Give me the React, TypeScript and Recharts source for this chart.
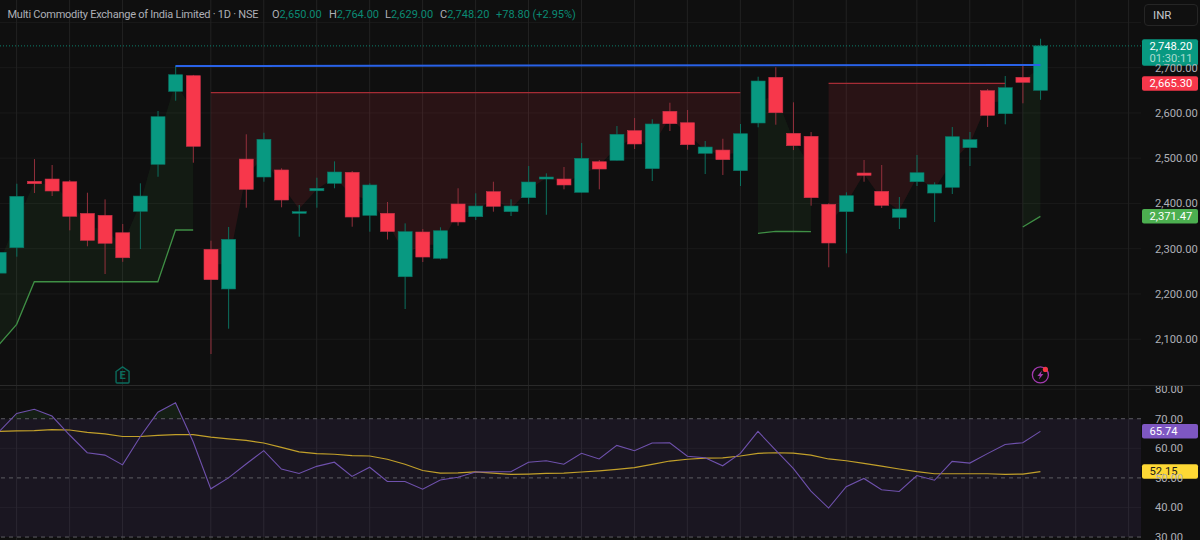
import React from 'react';
import {
  ComposedChart, Bar, Line, Area, XAxis, YAxis, CartesianGrid, ReferenceLine, ReferenceDot, ReferenceArea,
} from 'recharts';

const openP = [2246,2302.2,2449,2454,2448,2378,2373.8,2335.3,2382.6,2486.5,2647.8,2682.3,2298.7,2211,2498,2458.4,2474,2378.2,2428,2444.5,2468.8,2373.8,2378.2,2238,2336.9,2278.8,2398.8,2370.7,2426,2381.8,2412.7,2454,2454,2424.6,2492.2,2495.3,2560.8,2476.8,2603.6,2578.4,2510.8,2518,2472.4,2577.8,2678.8,2555,2548.4,2398.1,2381.8,2467.3,2426.8,2369.4,2448,2423,2435.7,2523.2,2649.2,2598.3,2678.8,2650];
const highP = [2295,2443.6,2498,2485,2451.8,2423.7,2409,2354.6,2444.5,2604.3,2704.4,2684,2317.7,2348,2552.8,2556.3,2477.7,2396.6,2456.9,2493,2471.7,2444.5,2403.2,2356,2343.5,2347.3,2433.5,2422.4,2448,2409.2,2482.7,2466.6,2480.5,2533.6,2496,2571.1,2588.8,2586,2622.6,2606.5,2538,2543,2575.6,2680,2700.9,2623.5,2557.9,2400.3,2424.6,2496,2485,2414.2,2507,2446.7,2568.9,2557.9,2652.9,2681.6,2707.5,2764];
const lowP = [2240,2282.3,2423,2416.4,2340.6,2305.3,2244,2271,2299.3,2459,2627,2490,2067.3,2123.2,2390.6,2448,2391.5,2326.5,2390.6,2433.5,2348.6,2337.6,2320.3,2166.7,2270.6,2276,2350.8,2363.4,2381.8,2372.2,2398.8,2375,2431.2,2424,2431.2,2495,2520.3,2449.6,2560.1,2518.8,2465,2462.9,2438.5,2568.3,2574,2518,2395,2258.9,2289.8,2448,2389.9,2343.5,2438.5,2359,2420.9,2482.7,2569,2574.9,2621.3,2629];
const closeP = [2292,2415.8,2443.6,2427.5,2371.6,2318.5,2312,2280,2416.4,2591.7,2684.5,2526.3,2231.5,2320.7,2431.2,2541.7,2407.6,2381.8,2433.4,2469.5,2370,2440.8,2338,2337.6,2281.6,2339.7,2359,2394.3,2393.7,2394.3,2447.4,2458.4,2440.8,2499.8,2476.1,2552.8,2531.4,2575.6,2576.2,2529.8,2524.7,2496.7,2554.1,2670.6,2600.5,2527.6,2412.7,2312.6,2417.1,2462.2,2395.9,2387.7,2467.9,2441.4,2547.5,2540.9,2594.8,2655.8,2667.7,2748.2];
const bodyMid = [2269,2359,2446,2441,2410,2348,2343,2308,2400,2539,2666,2604,2265,2266,2465,2500,2441,2388,2431,2457,2419,2407,2358,2288,2309,2309,2379,2383,2410,2388,2430,2456,2447,2462,2484,2524,2546,2526,2590,2554,2518,2507,2513,2624,2640,2541,2480,2355,2400,2465,2411,2385,2458,2432,2492,2532,2622,2627,2673,2699];

const n = null;
const greenLine = [2088,2132.9,2227,2227,2227,2227,2227,2227,2227,2227,2341.3,2341.3,n,n,n,n,n,n,n,n,n,n,n,n,n,n,n,n,n,n,n,n,n,n,n,n,n,n,n,n,n,n,n,2334,2338.4,2338,2337.6,n,n,n,n,n,n,n,n,n,n,n,2348,2371.47];
const redLine = [n,n,n,n,n,n,n,n,n,n,n,n,2645,2645,2645,2645,2645,2645,2645,2645,2645,2645,2645,2645,2645,2645,2645,2645,2645,2645,2645,2645,2645,2645,2645,2645,2645,2645,2645,2645,2645,2645,2645,n,n,n,n,2665.3,2665.3,2665.3,2665.3,2665.3,2665.3,2665.3,2665.3,2665.3,2665.3,2665.3,n,n];
const blueX = [10, 59];
const blueV = [2703.8, 2706];

const rsiLine = [65.6,71.8,73.2,70.9,64.5,58.5,57.7,54.4,63.9,72.2,75.4,62.2,46.3,50,54.7,59.2,53,51.5,53.9,55.3,50.5,53.6,48.8,48.8,46.2,49.3,50.2,52,52.1,52.1,55.3,55.8,54.6,58.3,56.4,61,59.2,61.8,61.9,57.3,56.8,54.1,58.3,65.7,59.4,53.2,45.5,39.8,47,49.8,46,45.4,50.8,49.2,55.6,55,58.2,61.3,61.9,65.74];
const rsiMa = [65.7,65.9,66,66.3,66.2,65.4,64.9,64,64,64.4,64.6,64.6,63.8,63.2,62.7,61.8,60.3,58.8,58.2,58,57.5,57.4,56.3,54.6,52.5,51.6,51.7,52,51.6,51.2,51.3,51.5,51.6,52,52.4,52.9,53.5,54.6,55.7,56.3,56.7,56.8,57.4,58.3,58.5,58.4,57.7,56.4,55.8,54.9,54,53,52.1,51.4,51.4,51.4,51.4,51.2,51.3,52.15];

const obX = [0.71, 1, 2, 3, 3.14, 5, 8.73, 9, 10, 10.41];
const obV = [70, 71.8, 73.2, 70.9, 70, n, 70, 72.2, 75.4, 70];

const priceTicks = [2100, 2200, 2300, 2400, 2500, 2600, 2700];
const priceGrid = [2100, 2200, 2300, 2400, 2500, 2600, 2700, 2800];
const rsiTicks = [30, 40, 50, 60, 70, 80];
const rsiGrid = [40, 60, 80];
const gridX = [1, 4, 7, 12, 15, 18, 21, 24, 27, 30, 33, 36, 39, 42, 45, 48, 52, 55, 58, 61, 64];

const legendName = 'Multi Commodity Exchange of India Limited · 1D · NSE';
const legendOhlc = [
  { key: 'O', value: '2,650.00', labelX: 272 },
  { key: 'H', value: '2,764.00', labelX: 329 },
  { key: 'L', value: '2,629.00', labelX: 385 },
  { key: 'C', value: '2,748.20', labelX: 440 },
];
const legendChange = '+78.80 (+2.95%)';

const FONT = 'Roboto, "Liberation Sans", sans-serif';
const BG = '#0f0f0f';
const UP = '#089981';
const DOWN = '#f7374b';
const UP_WICK = '#0c6f5e';
const DOWN_WICK = '#93303c';
const GRID_V = '#222222';
const GRID_H = '#1a1a1a';
const AXIS_TEXT = '#aeb0b7';
const X_DOMAIN: [number, number] = [0.0567, 64.7];

const rows = closeP.map((c, i) => ({
  x: i,
  open: openP[i],
  high: highP[i],
  low: lowP[i],
  close: c,
  range: [lowP[i], highP[i]],
  greenBand: greenLine[i] == null ? null : [greenLine[i], bodyMid[i]],
  redBand: redLine[i] == null ? null : [bodyMid[i], redLine[i]],
  green: greenLine[i],
  red: redLine[i],
}));
const rsiRows = rsiLine.map((v, i) => ({ x: i, rsi: v, ma: rsiMa[i] }));
const obRows = obX.map((x, i) => ({ x, band: obV[i] == null ? null : [70, obV[i]] }));
const blueRows = blueX.map((x, i) => ({ x, blue: blueV[i] }));

const fmt = (v: number) => v.toLocaleString('en-US', { minimumFractionDigits: 2, maximumFractionDigits: 2 });

function Candle(props: any) {
  const { x, y, width, height, payload } = props;
  if (height == null || !payload) return null;
  const k = height / (payload.high - payload.low);
  const up = payload.close >= payload.open;
  const top = y + (payload.high - Math.max(payload.open, payload.close)) * k;
  const bot = y + (payload.high - Math.min(payload.open, payload.close)) * k;
  const cx = x + width / 2;
  return (
    <g>
      <line x1={cx} x2={cx} y1={y} y2={y + height} stroke={up ? UP_WICK : DOWN_WICK} strokeWidth={1} />
      <rect x={x} y={top} width={width} height={Math.max(bot - top, 1)} fill={up ? UP : DOWN} stroke={up ? '#0a7565' : '#c8324a'} strokeWidth={0.6} />
    </g>
  );
}

function tag(bg: string, fg: string, text: string, h = 14.5, extra?: string, top?: number) {
  return (p: any) => {
    const y = p.viewBox.y;
    const t = top == null ? y - h / 2 : y + top;
    return (
      <g>
        <rect x={1142} y={t} width={56} height={h} rx={2} fill={bg} />
        <text x={1149.5} y={t + 11} fill={fg} fontSize={11.2} fontFamily={FONT}>{text}</text>
        {extra ? <text x={1149.5} y={t + 23} fill="#a9dcd0" fontSize={11.2} fontFamily={FONT}>{extra}</text> : null}
      </g>
    );
  };
}

function EarningsBadge(p: any) {
  const { cx, cy } = p;
  return (
    <g transform={`translate(${cx},${cy})`}>
      <path d="M-6.5,-3.5 L0,-8 L6.5,-3.5 L6.5,7 Q6.5,8 5.5,8 L-5.5,8 Q-6.5,8 -6.5,7 Z" fill="none" stroke="#0b6b5c" strokeWidth={1.4} />
      <text x={0} y={4.5} textAnchor="middle" fontSize={11} fontWeight={700} fill="#0b6b5c" fontFamily={FONT}>E</text>
    </g>
  );
}

function BoltBadge(p: any) {
  const { cx, cy } = p;
  return (
    <g transform={`translate(${cx},${cy})`}>
      <circle cx={0} cy={0} r={8} fill="none" stroke="#a33ab0" strokeWidth={1.3} />
      <path d="M1.5,-4.5 L-3,1 L-0.5,1 L-1.5,4.5 L3,-1 L0.5,-1 Z" fill="#a33ab0" />
      <circle cx={5} cy={-5.5} r={2.6} fill="#f23645" />
    </g>
  );
}

const textStyle: React.CSSProperties = { position: 'absolute', top: 7, fontFamily: FONT, fontSize: 11, lineHeight: '15px', whiteSpace: 'nowrap' };

export default function App() {
  return (
    <div style={{ position: 'fixed', left: 0, top: 0, width: 1200, height: 540, background: BG, overflow: 'hidden' }}>
      <div style={{ position: 'absolute', left: 0, top: 0, width: 1200, height: 385 }}>
        <ComposedChart width={1200} height={385} data={rows} margin={{ top: 0, right: 0, bottom: 0, left: 0 }}>
          <XAxis dataKey="x" type="number" domain={X_DOMAIN} allowDataOverflow hide />
          <YAxis
            orientation="right" width={59} domain={[1998.8, 2849.6]} allowDataOverflow ticks={priceTicks} interval={0}
            tickFormatter={fmt} tickLine={false} axisLine={false} tickMargin={8}
            tick={{ fill: AXIS_TEXT, fontSize: 11.2, fontFamily: FONT }}
          />
          <CartesianGrid stroke={GRID_H} vertical={false} horizontalValues={priceGrid} />
          <CartesianGrid stroke={GRID_V} horizontal={false} verticalValues={gridX} />
          <Area dataKey="greenBand" stroke="none" fill="#4caf50" fillOpacity={0.08} isAnimationActive={false} dot={false} activeDot={false} />
          <Area dataKey="redBand" stroke="none" fill="#f23645" fillOpacity={0.115} isAnimationActive={false} dot={false} activeDot={false} />
          <Line dataKey="green" stroke="#3f8f45" strokeWidth={1.3} dot={false} activeDot={false} isAnimationActive={false} />
          <Line dataKey="red" stroke="#a62c35" strokeWidth={1.4} dot={false} activeDot={false} isAnimationActive={false} />
          <Line data={blueRows} dataKey="blue" stroke="#2962e8" strokeWidth={2} dot={false} activeDot={false} isAnimationActive={false} />
          <ReferenceLine y={2748.2} stroke="#0c7f6b" strokeDasharray="1 2" ifOverflow="visible"
            label={tag(UP, '#ffffff', '2,748.20', 26.5, '01:30:11', -6.7)} />
          <ReferenceLine y={2665.3} stroke="none" ifOverflow="visible" label={tag(DOWN, '#ffffff', '2,665.30')} />
          <ReferenceLine y={2371.47} stroke="none" ifOverflow="visible" label={tag('#4caf50', '#ffffff', '2,371.47')} />
          <Bar dataKey="range" barSize={14} shape={Candle} isAnimationActive={false} />
          <ReferenceDot x={7} y={2021} shape={EarningsBadge} ifOverflow="visible" />
          <ReferenceDot x={59} y={2021} shape={BoltBadge} ifOverflow="visible" />
        </ComposedChart>
      </div>
      <div style={{ position: 'absolute', left: 0, top: 385, width: 1200, height: 1, background: '#2a2a2a' }} />
      <div style={{ position: 'absolute', left: 0, top: 386, width: 1200, height: 154 }}>
        <ComposedChart width={1200} height={154} data={rsiRows} margin={{ top: 0, right: 0, bottom: 0, left: 0 }}>
          <XAxis dataKey="x" type="number" domain={X_DOMAIN} allowDataOverflow hide />
          <YAxis
            orientation="right" width={59} domain={[29, 81.07]} allowDataOverflow ticks={rsiTicks} interval={0}
            tickFormatter={fmt} tickLine={false} axisLine={false} tickMargin={8}
            tick={{ fill: AXIS_TEXT, fontSize: 11.2, fontFamily: FONT }}
          />
          <ReferenceArea y1={30} y2={70} fill="#7e57c2" fillOpacity={0.1} stroke="none" ifOverflow="hidden" />
          <CartesianGrid stroke={GRID_H} vertical={false} horizontalValues={rsiGrid} />
          <CartesianGrid stroke={GRID_V} horizontal={false} verticalValues={gridX} />
          <ReferenceLine y={70} stroke="#5c5c62" strokeDasharray="4 4" />
          <ReferenceLine y={50} stroke="#5c5c62" strokeDasharray="4 4" />
          <ReferenceLine y={30} stroke="#5c5c62" strokeDasharray="4 4" />
          <Area data={obRows} dataKey="band" stroke="none" fill="#4caf50" fillOpacity={0.1} isAnimationActive={false} dot={false} activeDot={false} />
          <Line dataKey="ma" stroke="#c2a02a" strokeWidth={1.2} dot={false} activeDot={false} isAnimationActive={false} />
          <Line dataKey="rsi" stroke="#6f51ad" strokeWidth={1.1} dot={false} activeDot={false} isAnimationActive={false} />
          <ReferenceLine y={65.74} stroke="none" ifOverflow="visible" label={tag('#7e57c2', '#ffffff', '65.74')} />
          <ReferenceLine y={52.15} stroke="none" ifOverflow="visible" label={tag('#fdd835', '#1a1a1a', '52.15')} />
        </ComposedChart>
      </div>
      <span style={{ ...textStyle, left: 7.5, color: '#aeb0b7', letterSpacing: -0.25 }}>{legendName}</span>
      {legendOhlc.map((o) => (
        <span key={o.key} style={{ ...textStyle, left: o.labelX, color: '#aeb0b7' }}>
          {o.key}<span style={{ color: '#0b8a74' }}>{o.value}</span>
        </span>
      ))}
      <span style={{ ...textStyle, left: 496, color: '#0b8a74' }}>{legendChange}</span>
      <div style={{ position: 'absolute', left: 1144, top: 4, width: 54, height: 22, boxSizing: 'border-box', border: '1px solid #252525', borderRadius: 4, background: '#101010', color: '#c4c6cc', fontFamily: FONT, fontSize: 11.5, lineHeight: '20px', paddingLeft: 8 }}>INR</div>
    </div>
  );
}
